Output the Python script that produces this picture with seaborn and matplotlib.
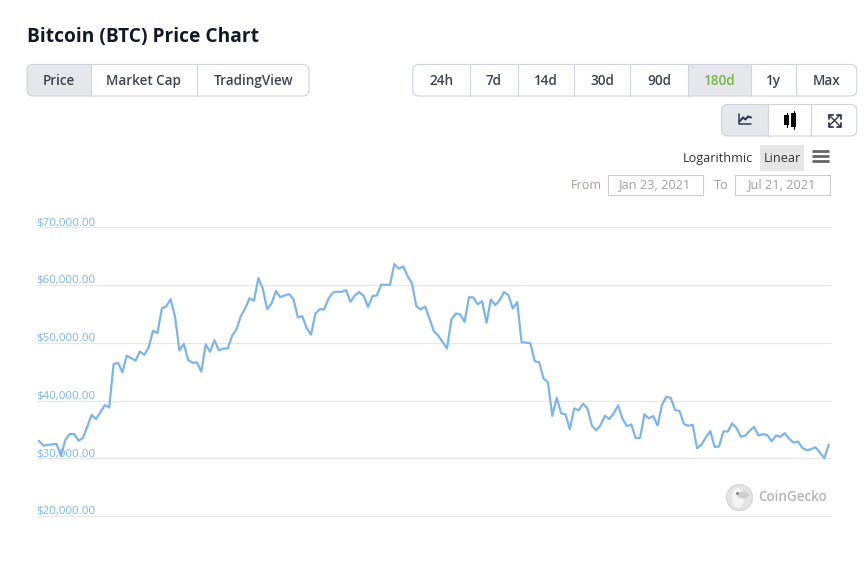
import numpy as np
import matplotlib
matplotlib.use('Agg')
import matplotlib.pyplot as plt
import pandas as pd
import seaborn as sns
from matplotlib.patches import FancyBboxPatch, Rectangle, Circle, Ellipse
from matplotlib.transforms import ScaledTranslation

# Prices, one per day
prices = [
    33000, 32200, 32300, 32400, 32500, 30450, 33170, 34200, 34200, 33050,
    33500, 35500, 37500, 36800, 38000, 39200, 38800, 46300, 46550, 44900,
    47750, 47350, 46900, 48500, 47900, 49200, 52100, 51700, 55950, 56300,
    57550, 54500, 48700, 49800, 47000, 46550, 46600, 45000, 49700, 48450,
    50450, 48700, 49000, 49000, 51200, 52300, 54600, 55950, 57700, 57300,
    61200, 59400, 55800, 56800, 58950, 57900, 58200, 58430, 57550, 54400,
    54600, 52580, 51420, 55070, 55820, 55770, 57680, 58720, 58830, 58830,
    59120, 57100, 58200, 58780, 58140, 56170, 58080, 58200, 60050, 60050,
    60000, 63640, 62830, 63240, 61560, 60340, 56350, 55770, 56290, 54200,
    52000, 51250, 50150, 49000, 54030, 55070, 54900, 53620, 57900, 57850,
    56630, 57210, 53450, 57500, 56520, 57390, 58780, 58260, 55940, 57040,
    50090, 50030, 49920, 46800, 46620, 43840, 43150, 37350, 40480, 37800,
    37600, 35050, 38640, 38290, 39450, 38640, 35680, 34810, 35740, 37370,
    36790, 37770, 39160, 36840, 35570, 35860, 33480, 33540, 37600, 36900,
    37310, 35680, 39220, 40670, 40440, 38350, 38180, 35920, 35630, 35800,
    31740, 32380, 33600, 34700, 31970, 32030, 34640, 34640, 36030, 35220,
    33710, 33940, 34760, 35450, 33940, 34180, 34000, 32960, 33940, 33710,
    34350, 33360, 32730, 32900, 31800, 31390, 31570, 31910, 30990, 30000,
    32380,
]
y_ticks = [20000, 30000, 40000, 50000, 60000, 70000]
y_labels = ['$20,000.00', '$30,000.00', '$40,000.00', '$50,000.00', '$60,000.00', '$70,000.00']

chart_tabs = ['Price', 'Market Cap', 'TradingView']
range_tabs = ['24h', '7d', '14d', '30d', '90d', '180d', '1y', 'Max']

W, H = 865, 561
LINE = '#7cb5ec'
BORDER = '#cfd3dc'
ACTIVE = '#e5e7eb'
DARK = '#3e4452'
FONT = 'Open Sans'


# Pixel size to points at dpi 100
def px(size):
    return size * 0.72


# Row of joined buttons with one highlighted
def button_group(ax, edges, top, bottom, labels=None, active=0, size=13.5, active_color=None):
    box = FancyBboxPatch((edges[0], top), edges[-1] - edges[0], bottom - top,
                         boxstyle='round,pad=0,rounding_size=6', fc='white', ec='none', zorder=1)
    ax.add_patch(box)
    fill = Rectangle((edges[active], top), edges[active + 1] - edges[active], bottom - top,
                     fc=ACTIVE, ec='none', zorder=2)
    ax.add_patch(fill)
    fill.set_clip_path(box)
    outline = FancyBboxPatch((edges[0], top), edges[-1] - edges[0], bottom - top,
                             boxstyle='round,pad=0,rounding_size=6', fc='none', ec=BORDER, lw=0.8, zorder=4)
    ax.add_patch(outline)
    for e in edges[1:-1]:
        ax.plot([e, e], [top, bottom], color=BORDER, lw=0.8, zorder=3)
    if labels:
        for i, lab in enumerate(labels):
            c = active_color if (i == active and active_color) else DARK
            ax.text((edges[i] + edges[i + 1]) / 2, (top + bottom) / 2 + 0.8, lab, ha='center', va='center',
                    fontsize=px(size), color=c, fontweight='semibold', family=FONT, zorder=5)


def plot_price_chart():
    sns.set_theme(style='white')
    plt.rcParams['font.family'] = [FONT, 'DejaVu Sans']

    dates = pd.date_range('2021-01-23', periods=len(prices), freq='D')
    df = pd.DataFrame({'date': dates, 'price': prices})

    fig = plt.figure(figsize=(W / 100, H / 100), dpi=100, facecolor='white')

    # Price chart
    ax = fig.add_axes([37 / W, 1 - 516 / H, (831 - 37) / W, (516 - 227.3) / H])
    ax.patch.set_alpha(0)
    sns.lineplot(data=df, x='date', y='price', color=LINE, linewidth=1.6, ax=ax, zorder=3)
    day_px = (828.7 - 39) / (len(prices) - 1)
    ax.set_xlim(dates[0] - pd.Timedelta(days=2 / day_px), dates[-1] + pd.Timedelta(days=2.3 / day_px))
    ax.set_ylim(20000, 70000)
    ax.set_yticks(y_ticks)
    ax.set_yticklabels(y_labels)
    ax.set_xticks([])
    ax.set_xlabel('')
    ax.set_ylabel('')
    sns.despine(ax=ax, left=True, bottom=True)
    ax.grid(True, axis='y', color='#e6e6e6', lw=0.8)
    for g in ax.get_ygridlines():
        g.set_clip_on(False)
    ax.tick_params(axis='y', length=0, pad=0)
    shift = ScaledTranslation(-1 / 100, -1.3 / 100, fig.dpi_scale_trans)
    for lab in ax.get_yticklabels():
        lab.set_ha('left')
        lab.set_va('bottom')
        lab.set_color(LINE)
        lab.set_fontsize(px(11.5))
        lab.set_fontfamily(FONT)
        lab.set_transform(lab.get_transform() + shift)

    # Page furniture, in pixel coordinates
    ui = fig.add_axes([0, 0, 1, 1], zorder=5)
    ui.set_xlim(0, W)
    ui.set_ylim(H, 0)
    ui.axis('off')
    ui.patch.set_alpha(0)

    ui.text(27, 36.5, 'Bitcoin (BTC) Price Chart', fontsize=px(19.2), fontweight='bold',
            color='#111827', va='center', family=FONT)

    button_group(ui, [27, 91, 197, 309], 64.5, 96, chart_tabs, active=0)
    button_group(ui, [412.7, 469.7, 518.3, 574.3, 630.3, 688.3, 750.7, 796.3, 856.7], 64.5, 96,
                 range_tabs, active=5, active_color='#75b44a')
    button_group(ui, [721.5, 768, 811.3, 856.7], 104.5, 136, None, active=0)

    # Line chart icon
    ui.plot([738.5, 738.5, 751], [113.5, 124, 124], color='#2d3a55', lw=1.1, zorder=6)
    ui.plot([740, 743, 745.5, 748, 751], [121, 117.5, 119.5, 116.5, 117.5], color='#2d3a55', lw=1.5, zorder=6)
    # Candlestick icon
    for cx, y0, y1, b0, b1 in [(786.7, 113, 127, 115, 125), (793.7, 111, 129, 113, 127)]:
        ui.plot([cx, cx], [y0, y1], color='black', lw=0.8, zorder=6)
        ui.add_patch(Rectangle((cx - 2.4, b0), 4.8, b1 - b0, fc='black', ec='none', zorder=6))
    # Expand icon
    for x0, y0, x1, y1 in [(829, 115, 840, 126), (840, 115, 829, 126)]:
        ui.plot([x0, x1], [y0, y1], color='#2d3a55', lw=1, zorder=6)
    for cx, cy, sx, sy in [(828.5, 114.5, 1, 1), (840.5, 114.5, -1, 1), (828.5, 126.5, 1, -1), (840.5, 126.5, -1, -1)]:
        ui.plot([cx + sx * 4, cx, cx], [cy, cy, cy + sy * 4], color='#2d3a55', lw=1.3, zorder=6)

    # Scale toggle and menu
    ui.text(683, 158, 'Logarithmic', fontsize=px(12.6), color='#333333', va='center', family=FONT)
    ui.add_patch(Rectangle((760, 145), 44, 26, fc='#e6e6e6', ec='none'))
    ui.text(782, 158, 'Linear', fontsize=px(12.6), color='#333333', va='center', ha='center', family=FONT)
    for yy in [150.5, 155.5, 160.5]:
        ui.plot([812, 829], [yy, yy], color='#666666', lw=2, solid_capstyle='butt')

    # Date range
    ui.text(571, 185, 'From', fontsize=px(12.6), color='#a89f98', va='center', family=FONT)
    ui.text(714, 185, 'To', fontsize=px(12.6), color='#a89f98', va='center', family=FONT)
    for x0, lab in [(608, 'Jan 23, 2021'), (735, 'Jul 21, 2021')]:
        ui.add_patch(Rectangle((x0, 174.5), 95, 20.5, fc='white', ec='#cccccc', lw=0.8))
        ui.text(x0 + 47.5, 185, lab, fontsize=px(12.7), color='#a0a0a0', va='center', ha='center', family=FONT)

    # Watermark
    ui.add_patch(Circle((739.5, 497.5), 13, fc='#e4e4e4', ec='#d4d4d4', lw=0.8))
    ui.add_patch(Ellipse((738, 498), 12, 20, fc='#f4f4f4', ec='none'))
    ui.add_patch(Ellipse((743, 495), 12, 7, fc='#cfcfcf', ec='none'))
    ui.add_patch(Circle((737.5, 493.5), 1.5, fc='#888888', ec='none'))
    ui.text(758, 497, 'CoinGecko', fontsize=px(13.5), color='#b4b4b4', va='center',
            fontweight='semibold', family=FONT)

    fig.savefig('out.png', dpi=100)


plot_price_chart()
